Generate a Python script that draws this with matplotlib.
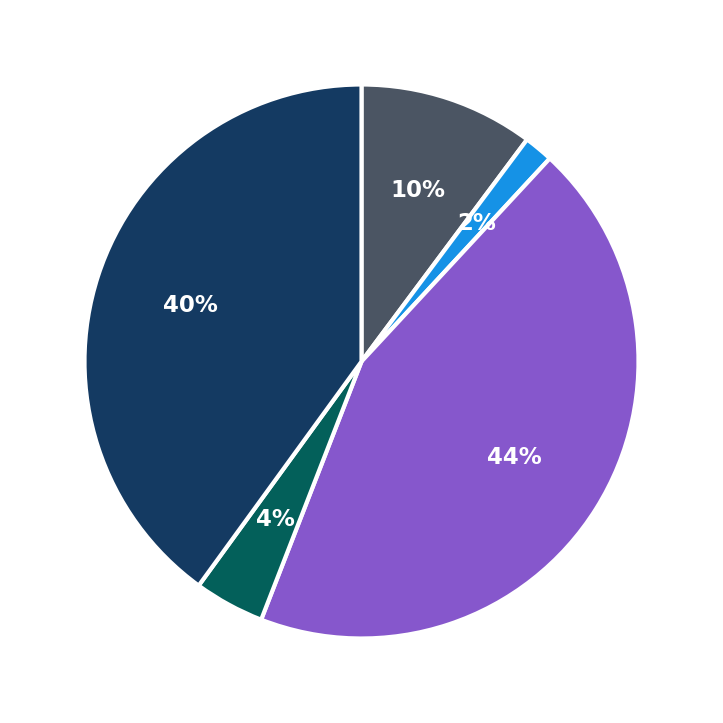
import matplotlib
matplotlib.use("Agg")
import matplotlib.pyplot as plt

labels = ["A", "B", "C", "D", "E"]
values = [10.2, 1.7, 44.0, 4.1, 40.0]
colors = ["#4b5563", "#1592e6", "#8657cc", "#03605a", "#143a62"]

fig = plt.figure(figsize=(7.23, 7.23), dpi=100)
R = 277
S = R * 1.25
cx, cy = 361.5, 723 - 361.5
ax = fig.add_axes([(cx - S) / 723, (cy - S) / 723, 2 * S / 723, 2 * S / 723])
wedges, texts, autotexts = ax.pie(
    values, colors=colors, startangle=90, counterclock=False,
    autopct="%1.0f%%", pctdistance=0.65,
    wedgeprops=dict(edgecolor="white", linewidth=3),
    textprops=dict(color="white", fontsize=16.5, fontweight="bold"),
)
ax.set_xlim(-1.25, 1.25)
ax.set_ylim(-1.25, 1.25)
ax.set_aspect("equal")
ax.axis("off")
fig.savefig("out.png", dpi=100, facecolor="white")
